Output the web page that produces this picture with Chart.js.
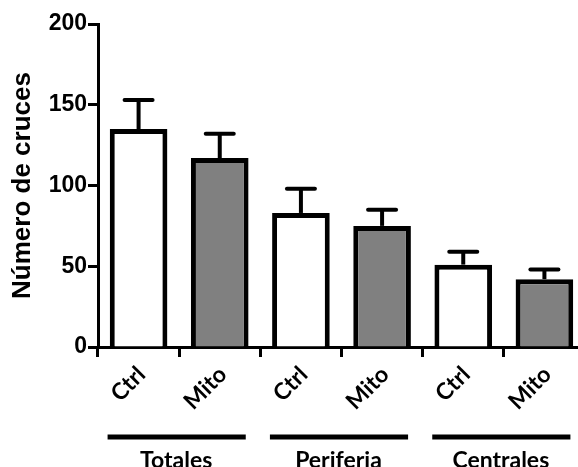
<!DOCTYPE html>
<html>
<head>
<meta charset="utf-8">
<script src="https://cdn.jsdelivr.net/npm/chart.js@4"></script>
<style>
  html, body { margin: 0; padding: 0; background: #fff; overflow: hidden; }
  #wrap { width: 585px; height: 467px; }
</style>
</head>
<body>
<div id="wrap"><canvas id="chart" width="585" height="467"></canvas></div>
<script>
const labels = ['Ctrl', 'Mito', 'Ctrl', 'Mito', 'Ctrl', 'Mito'];
const groups = ['Totales', 'Periferia', 'Centrales'];
const means = [135, 117, 83, 75, 51, 42];
const sem = [18, 15, 15, 10, 8, 6];
const fills = ['#ffffff', '#808080', '#ffffff', '#808080', '#ffffff', '#808080'];
const yTicks = [0, 50, 100, 150, 200];

// error bars (upper only) drawn through the scales
const errorBars = {
    id: 'errorBars',
    afterDatasetsDraw(chart) {
        const ctx = chart.ctx;
        const y = chart.scales.y;
        const meta = chart.getDatasetMeta(0);
        ctx.save();
        ctx.strokeStyle = '#000';
        ctx.lineWidth = 4;
        meta.data.forEach((bar, i) => {
            const top = y.getPixelForValue(means[i] + sem[i]);
            const base = y.getPixelForValue(means[i]);
            ctx.lineCap = 'butt';
            ctx.beginPath();
            ctx.moveTo(bar.x, base);
            ctx.lineTo(bar.x, top);
            ctx.stroke();
            ctx.lineCap = 'round';
            ctx.beginPath();
            ctx.moveTo(bar.x - 14, top);
            ctx.lineTo(bar.x + 14, top);
            ctx.stroke();
        });
        ctx.restore();
    }
};

// group lines and names under the rotated labels
const groupLabels = {
    id: 'groupLabels',
    afterDraw(chart) {
        const ctx = chart.ctx;
        const x = chart.scales.x;
        ctx.save();
        ctx.strokeStyle = '#000';
        ctx.fillStyle = '#000';
        ctx.lineWidth = 5;
        ctx.font = 'bold 23px Lato';
        ctx.textAlign = 'center';
        ctx.textBaseline = 'alphabetic';
        groups.forEach((g, k) => {
            const a = x.getPixelForValue(k * 2);
            const b = x.getPixelForValue(k * 2 + 1);
            ctx.beginPath();
            ctx.moveTo(a - 31, 437);
            ctx.lineTo(b + 26, 437);
            ctx.stroke();
            ctx.fillText(g, (a + b) / 2 - 3, 468);
        });
        ctx.restore();
    }
};

new Chart(document.getElementById('chart'), {
    type: 'bar',
    data: {
        labels: labels,
        datasets: [{
            data: means,
            backgroundColor: fills,
            borderColor: '#000',
            borderWidth: 5,
            barPercentage: 0.71,
            categoryPercentage: 1.0
        }]
    },
    options: {
        responsive: false,
        animation: false,
        layout: { padding: { top: 24, left: 0, right: 0, bottom: 0 } },
        plugins: { legend: { display: false }, tooltip: { enabled: false } },
        scales: {
            x: {
                grid: { display: true, drawOnChartArea: false, tickLength: 10, tickWidth: 3, color: '#000' },
                border: { display: true, width: 3, color: '#000' },
                ticks: {
                    color: '#000',
                    font: { family: 'Lato', size: 23, weight: 'bold' },
                    minRotation: 45,
                    maxRotation: 45,
                    labelOffset: 3,
                    padding: 4
                },
                afterFit(scale) { scale.height = 120; }
            },
            y: {
                min: 0,
                max: 200,
                grid: { display: true, drawOnChartArea: false, tickLength: 10, tickWidth: 3, color: '#000' },
                border: { display: true, width: 3, color: '#000' },
                afterBuildTicks(scale) { scale.ticks = yTicks.map(v => ({ value: v })); },
                ticks: {
                    color: '#000',
                    font: { family: 'Liberation Sans', size: 23, weight: 'bold' },
                    padding: 1
                },
                title: {
                    display: true,
                    text: 'Número de cruces',
                    color: '#000',
                    font: { family: 'Liberation Sans', size: 26, weight: 'bold' },
                    padding: { top: 7, bottom: 0 }
                },
                afterFit(scale) { scale.width = 98; }
            }
        }
    },
    plugins: [errorBars, groupLabels]
});
</script>
</body>
</html>
